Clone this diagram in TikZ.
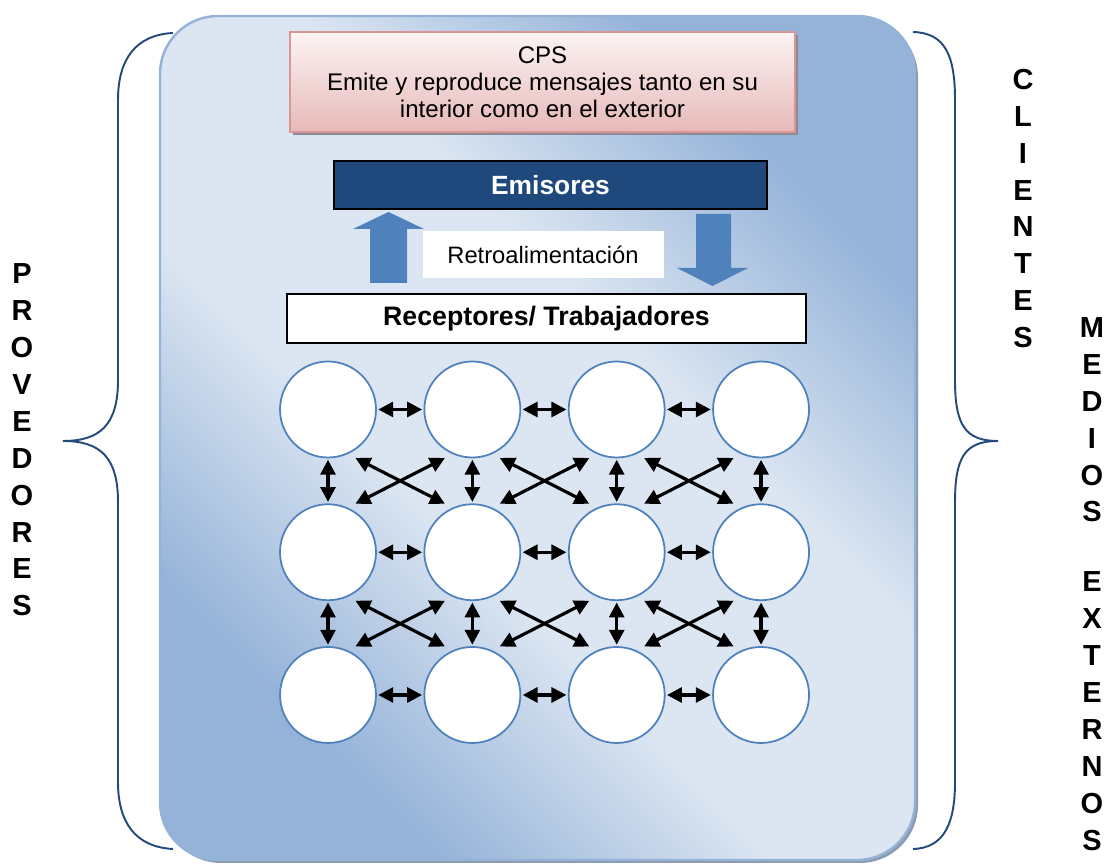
\documentclass[tikz,border=0pt]{standalone}
\usepackage{fontspec}
\setmainfont{Liberation Sans}
\usepackage{xcolor}
\usepackage{tikz}
\usetikzlibrary{calc}
\usetikzlibrary{arrows.meta}
\usetikzlibrary{shadows}

\definecolor{boxlight}{HTML}{DCE6F2}
\definecolor{boxdark}{HTML}{95B3D9}
\definecolor{boxline}{HTML}{95B3D7}
\definecolor{boxshadow}{HTML}{8C9BB2}
\definecolor{cpstop}{HTML}{FDF4F4}
\definecolor{cpsbottom}{HTML}{E6B9B8}
\definecolor{cpsline}{HTML}{D99694}
\definecolor{cpsshadow}{HTML}{8E8996}
\definecolor{emiblue}{HTML}{1F497D}
\definecolor{accblue}{HTML}{4F81BD}
\definecolor{bracecol}{HTML}{24497C}

\pgfdeclareverticalshading{frameshade}{100bp}{color(0bp)=(boxdark); color(27bp)=(boxdark);
	color(42bp)=(boxlight); color(58bp)=(boxlight); color(73bp)=(boxdark); color(100bp)=(boxdark)}

\begin{document}
\begin{tikzpicture}[transform shape,scale=1,
	circ/.style={circle,draw=accblue,fill=white,line width=1pt,minimum size=1.92cm,inner sep=0pt},
	biarrow/.style={{Triangle[length=8.5pt,width=8.5pt]}-{Triangle[length=8.5pt,width=8.5pt]},line width=1.8pt,shorten <=0.8pt,shorten >=0.8pt},
	vertword/.style={align=center,font=\fontsize{16.5}{21}\selectfont\bfseries},
	brace/.style={bracecol,line width=1.1pt}]
		\useasboundingbox (0,0) rectangle (22.2,17.3);
		% big frame
		\fill[boxshadow,rounded corners=1.16cm] (3.26,16.92) rectangle (18.36,0.04);
		\shade[shading=frameshade,shading angle=-45,
			draw=boxline,line width=1.4pt,rounded corners=1.16cm] (3.2,16.98) rectangle (18.3,0.1);
		% braces
		\draw[brace] (3.46,16.64) .. controls (2.7,16.6) and (2.36,16.1) .. (2.36,15.3) -- (2.36,9.7)
			.. controls (2.36,8.8) and (2.0,8.48) .. (1.26,8.48)
			.. controls (2.0,8.48) and (2.36,8.16) .. (2.36,7.26) -- (2.36,1.66)
			.. controls (2.36,0.86) and (2.7,0.36) .. (3.46,0.32);
		\draw[brace] (18.26,16.66) .. controls (18.9,16.64) and (19.1,16.2) .. (19.1,15.3) -- (19.1,9.7)
			.. controls (19.1,8.8) and (19.3,8.48) .. (19.96,8.48)
			.. controls (19.3,8.48) and (19.1,8.16) .. (19.1,7.26) -- (19.1,1.66)
			.. controls (19.1,0.86) and (18.9,0.34) .. (18.26,0.32);
		\node[vertword] (prov) at (0.44,8.5) {P\\R\\O\\V\\E\\D\\O\\R\\E\\S};
		\node[vertword] (cli) at (20.46,13.13) {C\\L\\I\\E\\N\\T\\E\\S};
		\node[vertword] (med) at (21.84,5.62) {M\\E\\D\\I\\O\\S\\[0.66cm]E\\X\\T\\E\\R\\N\\O\\S};
		% top boxes
		\node[draw=cpsline,line width=1.2pt,top color=cpstop,bottom color=cpsbottom,
			drop shadow={shadow xshift=0.05cm,shadow yshift=-0.07cm,fill=cpsshadow,opacity=1},
			minimum width=10.1cm,minimum height=2cm,align=center,
			font=\fontsize{13.7}{15.4}\selectfont] (cps) at (10.85,15.66)
			{CPS\\Emite y reproduce mensajes tanto en su\\interior como en el exterior};
		\node[draw=black,line width=1.1pt,fill=emiblue,text=white,minimum width=8.66cm,minimum height=0.96cm,
			font=\fontsize{15}{17}\selectfont\bfseries] (emi) at (11.01,13.6) {Emisores};
		\node[fill=white,minimum width=4.82cm,minimum height=0.94cm,
			font=\fontsize{13.5}{15}\selectfont] (retro) at (10.86,12.21) {Retroalimentación};
		\node[draw=black,line width=1.1pt,fill=white,minimum width=10.38cm,minimum height=0.98cm,
			font=\fontsize{15.2}{17}\selectfont\bfseries] (rec) at (10.93,10.93) {Receptores/ Trabajadores};
		% feedback arrows
		\fill[accblue] (7.4,11.64) -- (7.4,12.72) -- (7.06,12.72) -- (7.77,13.06) -- (8.48,12.72) -- (8.14,12.72) -- (8.14,11.64) -- cycle;
		\fill[accblue] (13.92,13.02) -- (14.62,13.02) -- (14.62,11.94) -- (14.96,11.94) -- (14.25,11.58) -- (13.54,11.94) -- (13.92,11.94) -- cycle;
		% network of workers
		\foreach \r in {1,2,3}
			\foreach \c in {1,...,4}
				\node[circ] (c\r\c) at ({6.56+2.887*(\c-1)},{9.11-2.855*(\r-1)}) {};
		\foreach \r in {1,2,3}
			\foreach \c/\n in {1/2,2/3,3/4}
				\draw[biarrow] (c\r\c) -- (c\r\n);
		\foreach \r/\s in {1/2,2/3}
			\foreach \c in {1,...,4}
				\draw[biarrow] (c\r\c) -- (c\s\c);
		\foreach \r/\s in {1/2,2/3}
			\foreach \c/\n in {1/2,2/3,3/4}{
				\coordinate (x\r\c) at ($(c\r\c)!.5!(c\s\n)$);
				\draw[biarrow] ($(x\r\c)+(-0.92,0.47)$) -- ($(x\r\c)+(0.92,-0.47)$);
				\draw[biarrow] ($(x\r\c)+(-0.92,-0.47)$) -- ($(x\r\c)+(0.92,0.47)$);
			}
	\end{tikzpicture}
\end{document}
